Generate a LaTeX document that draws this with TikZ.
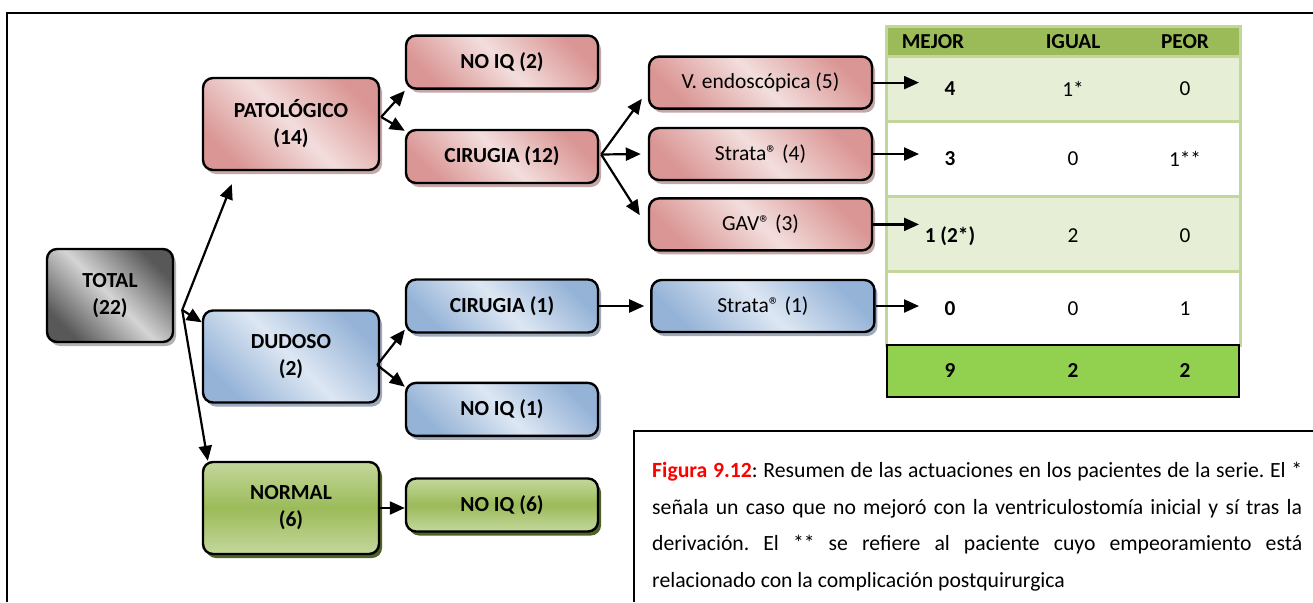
\documentclass[tikz,border=0pt]{standalone}
\usepackage{fontspec}
\setmainfont{Carlito}
\usetikzlibrary{positioning,arrows.meta,shadows}

\definecolor{redD}{RGB}{218,150,148}
\definecolor{redL}{RGB}{242,222,221}
\definecolor{redS}{RGB}{196,168,168}
\definecolor{blueD}{RGB}{149,179,215}
\definecolor{blueL}{RGB}{221,231,243}
\definecolor{blueS}{RGB}{158,170,188}
\definecolor{grayD}{RGB}{88,88,88}
\definecolor{grayL}{RGB}{212,212,212}
\definecolor{grayS}{RGB}{178,178,178}
\definecolor{greenD}{RGB}{155,187,89}
\definecolor{greenL}{RGB}{196,215,156}
\definecolor{greenS}{RGB}{79,98,40}
\definecolor{hdgreen}{RGB}{155,187,89}
\definecolor{rowgreen}{RGB}{230,238,214}
\definecolor{tabgreen}{RGB}{195,214,155}
\definecolor{totgreen}{RGB}{146,208,80}

\begin{document}
\begin{tikzpicture}[x=1pt, y=-1pt, >={Triangle[length=15pt,width=13pt]},
  box/.style={rectangle, rounded corners=10pt, draw, line width=2.4pt, align=center,
    font=\fontsize{21.5}{27}\selectfont\bfseries},
  redbox/.style={box, left color=redD, right color=redD, middle color=redL, shading angle=135,
    drop shadow={shadow xshift=3pt, shadow yshift=-4pt, fill=redS, opacity=1}},
  bluebox/.style={box, left color=blueD, right color=blueD, middle color=blueL, shading angle=135,
    drop shadow={shadow xshift=3pt, shadow yshift=-4pt, fill=blueS, opacity=1}},
  graybox/.style={box, left color=grayD, right color=grayD, middle color=grayL, shading angle=135,
    drop shadow={shadow xshift=3pt, shadow yshift=-4pt, fill=grayS, opacity=1}},
  greenbox/.style={box, top color=greenL, bottom color=greenL, middle color=greenD,
    drop shadow={shadow xshift=3pt, shadow yshift=-4pt, fill=greenS, opacity=1}},
  bigbox/.style={minimum width=176pt, minimum height=92pt},
  midbox/.style={minimum width=192pt, minimum height=53pt},
  endbox/.style={minimum width=223pt, minimum height=52pt, font=\fontsize{21.5}{27}\selectfont},
  arr/.style={->, line width=2.2pt},
  tabline/.style={draw=tabgreen, line width=3pt},
  cell/.style={font=\fontsize{21.3}{25}\selectfont, inner sep=0pt},
  bcell/.style={cell, font=\fontsize{21.3}{25}\selectfont\bfseries},
  captext/.style={text width=650pt, align=justify, inner sep=0pt,
    font=\fontsize{21.7}{36.5}\selectfont\frenchspacing}]

  \useasboundingbox (0,0) rectangle (1313,602);
  % outer frame
  \draw[line width=1.6pt] (7,602) |- (1313,13);

  % first and second level
  \node[graybox, minimum width=126pt, minimum height=93pt] (total) at (110,295.5) {TOTAL\\(22)};
  \node[redbox, bigbox] (pato) at (291,124) {PATOLÓGICO\\(14)};
  \node[bluebox, bigbox] (dudoso) at (291,356.5) {DUDOSO\\(2)};
  \node[greenbox, bigbox] (normal) at (291,508) {NORMAL\\(6)};

  % third level
  \node[redbox, midbox] (cirA) at (502,156.5) {CIRUGIA (12)};
  \node[redbox, midbox, above=39pt of cirA] (noiqa) {NO IQ (2)};
  \node[bluebox, midbox] (cirB) at (502,306) {CIRUGIA (1)};
  \node[bluebox, midbox, below=48pt of cirB] (noiqb) {NO IQ (1)};
  \node[greenbox, midbox] (noiqc) at (502,505) {NO IQ (6)};

  % devices
  \node[redbox, endbox] (strataA) at (760.5,154) {Strata® (4)};
  \node[redbox, endbox, above=17pt of strataA] (vendo) {V. endoscópica (5)};
  \node[redbox, endbox, below=16pt of strataA] (gav) {GAV® (3)};
  \node[bluebox, endbox, right=51pt of cirB] (strataB) {Strata® (1)};

  % arrows
  \coordinate (tsplit) at ([xshift=8pt,yshift=-14.5pt]total.east);
  \draw[arr] (tsplit) -- ([xshift=30pt,yshift=-13pt]pato.south west);
  \draw[arr] (tsplit) -- ([yshift=-13pt]dudoso.north west);
  \draw[arr] (tsplit) -- ([xshift=6pt]normal.north west);

  \coordinate (psplit) at ([xshift=1pt,yshift=7pt]pato.east);
  \draw[arr] (psplit) -- ([yshift=-1pt]noiqa.south west);
  \draw[arr] (psplit) -- ([yshift=-2pt]cirA.north west);

  \coordinate (csplit) at ([xshift=2pt,yshift=2pt]cirA.east);
  \draw[arr] (csplit) -- ([xshift=-6pt,yshift=11pt]vendo.south west);
  \draw[arr] (csplit) -- ([xshift=-7pt]strataA.west);
  \draw[arr] (csplit) -- ([xshift=-8pt,yshift=-18pt]gav.north west);

  \coordinate (dsplit) at ([xshift=-3pt,yshift=-8.5pt]dudoso.east);
  \draw[arr] (dsplit) -- ([yshift=4pt]cirB.south west);
  \draw[arr] (dsplit) -- ([yshift=-5pt]noiqb.north west);

  \draw[arr] (normal.east) -- (normal.east -| noiqc.west);
  \draw[arr] (cirB) -- ([xshift=-6pt]strataB.west);

  % results table
  \fill[hdgreen] (886,27) rectangle (1240,57);
  \foreach \ya/\yb/\c in {57/121/rowgreen, 121/196/white, 196/271/rowgreen, 271/345/white}
    \fill[\c] (886,\ya) rectangle (1240,\yb);
  \foreach \yy in {57,121,196,271}
    \draw[tabline] (886,\yy) -- (1240,\yy);
  \draw[tabline] (886,27) rectangle (1240,345);
  \draw[line width=2.4pt, fill=totgreen] (887,345) rectangle (1239,397);

  \node[bcell] (hmejor) at (933,42) {MEJOR};
  \node[bcell] (higual) at (1073,42) {IGUAL};
  \node[bcell] (hpeor) at (1185,42) {PEOR};

  \foreach \y/\a/\b/\c [count=\r] in {89/4/1*/0, 158.5/3/0/1**, 236/1 (2*)/2/0, 309/0/0/1} {
    \node[bcell] (m\r) at (950,\y) {\a};
    \node[cell] (i\r) at (1073,\y) {\b};
    \node[cell] (p\r) at (1185,\y) {\c};
  }
  \node[bcell] (mtot) at (950,371) {9};
  \node[bcell] (itot) at (1073,371) {2};
  \node[bcell] (ptot) at (1185,371) {2};

  \coordinate (tin) at (919,0);
  \draw[arr] (vendo) -- (vendo -| tin);
  \draw[arr] (strataA) -- (strataA -| tin);
  \draw[arr] (gav) -- (gav -| tin);
  \draw[arr] (strataB) -- (strataB -| tin);

  % caption
  \draw[line width=1.6pt] (634,602) |- (1313,431);
  \node[captext, anchor=north west] (cap) at (652,462)
    {{\color{red}\bfseries Figura 9.12}: Resumen de las actuaciones en los pacientes de la serie. El *\linebreak
     señala un caso que no mejoró con la ventriculostomía inicial y sí tras la\linebreak
     derivación. El ** se refiere al paciente cuyo empeoramiento está\linebreak
     relacionado con la complicación postquirurgica};
\end{tikzpicture}
\end{document}
